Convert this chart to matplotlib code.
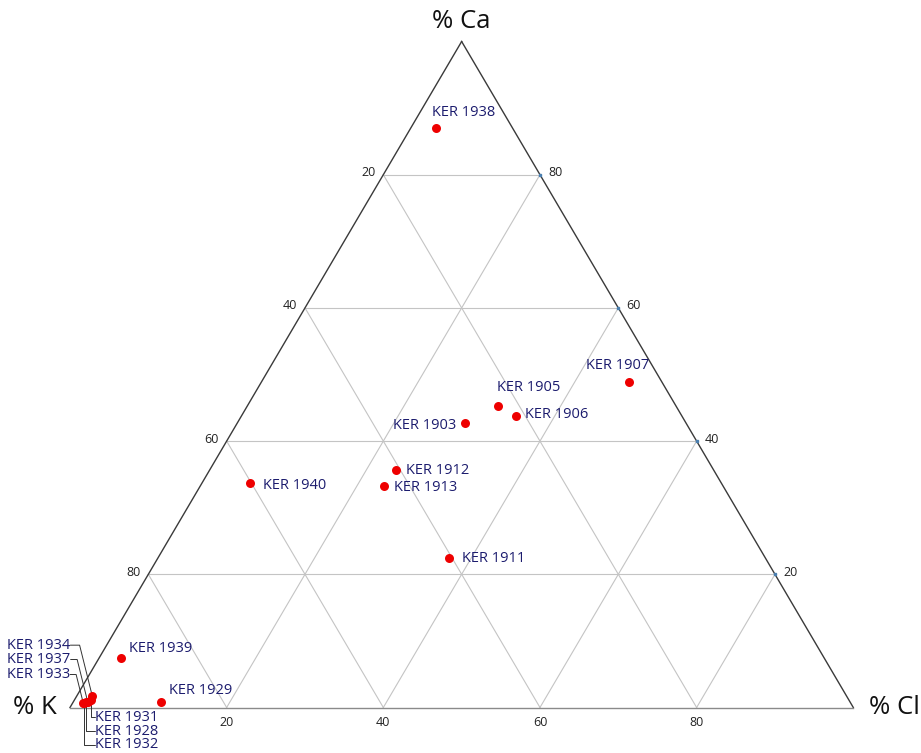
import matplotlib
matplotlib.use("Agg")
import matplotlib.pyplot as plt
import numpy as np

# Sample compositions (percent of Ca, Cl, K)
samples = ["KER 1938", "KER 1907", "KER 1905", "KER 1906", "KER 1903",
           "KER 1912", "KER 1913", "KER 1940", "KER 1911", "KER 1939",
           "KER 1929", "KER 1934", "KER 1937", "KER 1933", "KER 1931",
           "KER 1928", "KER 1932"]
ca = [87.0, 48.9, 45.2, 43.8, 42.7, 35.6, 33.3, 33.7, 22.4, 7.5,
      0.9, 1.7, 0.9, 0.75, 1.1, 0.8, 0.7]
cl = [3.2, 46.9, 32.1, 35.0, 29.1, 23.8, 23.4, 6.1, 37.2, 2.8,
      11.2, 2.0, 1.8, 1.3, 2.1, 1.7, 1.4]
k = [100 - a - b for a, b in zip(ca, cl)]

grid_levels = [20, 40, 60, 80]

# Label offsets from each point, in pixels (dx right, dy up), and alignment
label_offsets = {
    "KER 1938": (-4, 16, "left"),
    "KER 1907": (20, 16, "right"),
    "KER 1905": (-1, 19, "left"),
    "KER 1906": (9, 1, "left"),
    "KER 1903": (-9, -2, "right"),
    "KER 1912": (10, 0, "left"),
    "KER 1913": (10, -2, "left"),
    "KER 1940": (13, -2, "left"),
    "KER 1911": (13, 0, "left"),
    "KER 1939": (8, 9, "left"),
    "KER 1929": (8, 11, "left"),
}
# Leader-line labels for the crowded K corner: (dx, dy) in pixels to label anchor
leader_upper = {"KER 1934": (-22, 51), "KER 1937": (-17, 42), "KER 1933": (-13, 28)}
leader_lower = {"KER 1931": (4, -17), "KER 1928": (8.5, -29), "KER 1932": (11, -42)}


def to_xy(a, c):
    """Ternary (Ca, Cl) percent -> plot coordinates (K at 0,0; Cl at 1,0; Ca at 0.5,1)."""
    a = np.asarray(a, dtype=float) / 100.0
    c = np.asarray(c, dtype=float) / 100.0
    return c + a / 2.0, a


W, H = 921, 753
dpi = 100
fig = plt.figure(figsize=(W / dpi, H / dpi), dpi=dpi)
x0, x1 = 70, 853.3
ytop, ybot = 41.5, 707.5
ax = fig.add_axes([x0 / W, (H - ybot) / H, (x1 - x0) / W, (ybot - ytop) / H])
ax.set_xlim(0, 1)
ax.set_ylim(0, 1)
ax.axis("off")

font = "Open Sans"
px = 72.0 / dpi  # points per pixel

grid_c = "#c4c4c4"
for g in grid_levels:
    # constant Ca (horizontal)
    xa, ya = to_xy([g, g], [0, 100 - g])
    ax.plot(xa, ya, color=grid_c, lw=0.8, zorder=1)
    # constant Cl
    xa, ya = to_xy([0, 100 - g], [g, g])
    ax.plot(xa, ya, color=grid_c, lw=0.8, zorder=1)
    # constant K
    xa, ya = to_xy([0, 100 - g], [100 - g, 0])
    ax.plot(xa, ya, color=grid_c, lw=0.8, zorder=1)

# Outline
xs, ys = to_xy([0, 100], [0, 0])
ax.plot(xs, ys, color="#3a3a3a", lw=1.0, zorder=2, clip_on=False)
xs, ys = to_xy([100, 0], [0, 100])
ax.plot(xs, ys, color="#3a3a3a", lw=1.0, zorder=2, clip_on=False)
xs, ys = to_xy([0, 0], [0, 100])
ax.plot(xs, ys, color="#8a8a8a", lw=1.0, zorder=2, clip_on=False)

# Edge tick labels
tick_fs = 9
for g in grid_levels:
    # left edge: K values (Cl = 0)
    xe, ye = to_xy(100 - g, 0)
    ax.annotate(str(g), (xe, ye), xytext=(-8 * px, 2 * px), textcoords="offset points",
                ha="right", va="center", fontsize=tick_fs, family=font, color="#222222")
    # right edge: Ca values (K = 0)
    xe, ye = to_xy(g, 100 - g)
    ax.annotate(str(g), (xe, ye), xytext=(8 * px, 2 * px), textcoords="offset points",
                ha="left", va="center", fontsize=tick_fs, family=font, color="#222222")
    ax.plot([xe], [ye], marker="s", ms=2, color="#4a7fb0", zorder=3, clip_on=False)
    # bottom edge: Cl values (Ca = 0)
    xe, ye = to_xy(0, g)
    ax.annotate(str(g), (xe, ye), xytext=(0, -15 * px), textcoords="offset points",
                ha="center", va="center", fontsize=tick_fs, family=font, color="#222222")

# Vertex titles
title_fs = 18.5
xv, yv = to_xy(100, 0)
ax.annotate("% Ca", (xv, yv), xytext=(0, 20 * px), textcoords="offset points",
            ha="center", va="center", fontsize=title_fs, family=font, color="#111111")
xv, yv = to_xy(0, 0)
ax.annotate("% K", (xv, yv), xytext=(-35 * px, 0), textcoords="offset points",
            ha="center", va="center", fontsize=title_fs, family=font, color="#111111")
xv, yv = to_xy(0, 100)
ax.annotate("% Cl", (xv, yv), xytext=(41 * px, 0), textcoords="offset points",
            ha="center", va="center", fontsize=title_fs, family=font, color="#111111")

# Data points
xp, yp = to_xy(ca, cl)
ax.scatter(xp, yp, s=42, color="#ee0000", zorder=5, clip_on=False, linewidths=0)

lab_c = "#1c1c6e"
lab_fs = 10.5
for name, x, y in zip(samples, xp, yp):
    if name in label_offsets:
        dx, dy, ha = label_offsets[name]
        ax.annotate(name, (x, y), xytext=(dx * px, dy * px), textcoords="offset points",
                    ha=ha, va="center", fontsize=lab_fs, family=font, color=lab_c, zorder=6)
    elif name in leader_upper:
        dx, dy = leader_upper[name]
        ax.annotate(name, (x, y), xytext=(dx * px, dy * px), textcoords="offset points",
                    ha="right", va="center", fontsize=lab_fs, family=font, color=lab_c,
                    arrowprops=dict(arrowstyle="-", color="#333333", lw=0.7,
                                    shrinkA=0, shrinkB=0, relpos=(1, 0.5),
                                    patchA=None,
                                    connectionstyle="angle,angleA=0,angleB=104,rad=0"))
    elif name in leader_lower:
        dx, dy = leader_lower[name]
        ax.annotate(name, (x, y), xytext=(dx * px, dy * px), textcoords="offset points",
                    ha="left", va="center", fontsize=lab_fs, family=font, color=lab_c,
                    arrowprops=dict(arrowstyle="-", color="#333333", lw=0.7,
                                    shrinkA=0, shrinkB=0, relpos=(0, 0.5),
                                    patchA=None,
                                    connectionstyle="angle,angleA=0,angleB=90,rad=0"))

fig.savefig("out.png", dpi=dpi, facecolor="white")
